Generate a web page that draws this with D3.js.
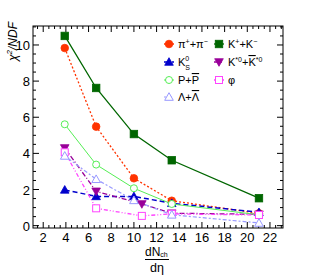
<!DOCTYPE html>
<html>
<head>
<meta charset="utf-8">
<script src="https://cdn.jsdelivr.net/npm/d3@7"></script>
<style>
  body { margin: 0; background: #fff; }
  svg text { font-family: "Liberation Sans", Arial, sans-serif; }
</style>
</head>
<body>
<div id="chart"></div>
<script>
// dN_ch/deta of the five multiplicity classes
const xMain = [3.9, 6.67, 10.0, 13.34, 21.03];
const xShift = [3.9, 6.67, 10.7, 13.34, 21.03]; // K*0 and phi

const pipi = [9.83, 5.48, 2.62, 1.38, 0.68];
const kk = [10.5, 7.62, 5.07, 3.62, 1.52];
const k0s = [1.98, 1.62, 1.62, 1.24, 0.74];
const kstar = [4.3, 1.9, 1.2, 0.69, 0.63];
const ppbar = [5.61, 3.38, 2.07, 1.2, 0.6];
const phi = [4.06, 0.96, 0.54, 0.65, 0.59];
const lambda = [3.86, 2.57, 1.4, 0.6, 0.15];

const xTicks = [2, 4, 6, 8, 10, 12, 14, 16, 18, 20, 22];
const yTicks = [0, 2, 4, 6, 8, 10];

const series = [
  { key: "pi", x: xMain, y: pipi, color: "#ff3300", dash: "2,2", lw: 1.3, marker: "circle", fill: true },
  { key: "kk", x: xMain, y: kk, color: "#006600", dash: null, lw: 1.3, marker: "square", fill: true },
  { key: "k0s", x: xMain, y: k0s, color: "#0000cc", dash: "5,3", lw: 1.5, marker: "triUp", fill: true },
  { key: "kstar", x: xShift, y: kstar, color: "#990099", dash: "5,2,1,2", lw: 1.3, marker: "triDown", fill: true },
  { key: "pp", x: xMain, y: ppbar, color: "#55ee55", dash: null, lw: 1, marker: "circle", fill: false },
  { key: "phi", x: xShift, y: phi, color: "#ff44ff", dash: "4,2,1,2,1,2", lw: 1.3, marker: "square", fill: false },
  { key: "lam", x: xMain, y: lambda, color: "#9999ff", dash: "2,2,4,2", lw: 1.2, marker: "triUp", fill: false }
];

const W = 315, H = 276;
const frame = { left: 33, right: 283, top: 26, bottom: 228 };

const svg = d3.select("#chart").append("svg")
  .attr("width", W).attr("height", H);

const x = d3.scaleLinear().domain([1.1, 23.15]).range([frame.left, frame.right]);
const y = d3.scaleLinear().domain([-0.13, 11.05]).range([frame.bottom, frame.top]);

// ticks on all four sides, pointing inward
const axes = svg.append("g");
const xMinor = d3.range(1.5, 23.01, 0.5);
const yMinor = d3.range(0, 11.01, 0.5);
xMinor.forEach(v => {
  const major = Math.abs(v % 2) < 1e-6;
  const len = major ? 6 : 3;
  axes.append("line").attr("x1", x(v)).attr("x2", x(v))
    .attr("y1", frame.bottom).attr("y2", frame.bottom - len).attr("stroke", "#000");
  axes.append("line").attr("x1", x(v)).attr("x2", x(v))
    .attr("y1", frame.top).attr("y2", frame.top + len).attr("stroke", "#000");
});
yMinor.forEach(v => {
  const major = Math.abs(v % 2) < 1e-6;
  const len = major ? 6 : 3;
  axes.append("line").attr("y1", y(v)).attr("y2", y(v))
    .attr("x1", frame.left).attr("x2", frame.left + len).attr("stroke", "#000");
  axes.append("line").attr("y1", y(v)).attr("y2", y(v))
    .attr("x1", frame.right).attr("x2", frame.right - len).attr("stroke", "#000");
});
axes.append("rect")
  .attr("x", frame.left).attr("y", frame.top)
  .attr("width", frame.right - frame.left).attr("height", frame.bottom - frame.top)
  .attr("fill", "none").attr("stroke", "#000").attr("stroke-width", 1);

axes.selectAll(".xt").data(xTicks).enter().append("text")
  .attr("x", d => x(d)).attr("y", frame.bottom + 14)
  .attr("text-anchor", "middle").attr("font-size", 13).text(d => d);
axes.selectAll(".yt").data(yTicks).enter().append("text")
  .attr("x", frame.left - 3).attr("y", d => y(d) + 5)
  .attr("text-anchor", "end").attr("font-size", 13).text(d => d);

// y title
const yt = svg.append("text")
  .attr("transform", "translate(17,22) rotate(-90)")
  .attr("text-anchor", "end").attr("font-size", 12).attr("font-style", "italic");
yt.append("tspan").text("χ");
yt.append("tspan").attr("font-size", 8).attr("dy", -5).text("2");
yt.append("tspan").attr("dy", 5).text("/NDF");

// x title as a fraction
const xt = svg.append("text").attr("x", 145).attr("y", 255.5).attr("font-size", 12);
xt.append("tspan").text("dN");
xt.append("tspan").attr("font-size", 7).attr("dy", 1).text("ch");
svg.append("line").attr("x1", 145).attr("x2", 169).attr("y1", 259.5).attr("y2", 259.5)
  .attr("stroke", "#000").attr("stroke-width", 1);
svg.append("text").attr("x", 157).attr("y", 272).attr("text-anchor", "middle")
  .attr("font-size", 12.5).text("dη");

function drawMarker(g, m, cx, cy, color, fill) {
  const f = fill ? color : "#fff";
  const sw = fill ? 0.8 : 1;
  if (m === "circle") {
    g.append("circle").attr("cx", cx).attr("cy", cy).attr("r", fill ? 3.8 : 3.5)
      .attr("fill", f).attr("stroke", color).attr("stroke-width", sw);
  } else if (m === "square") {
    const s = fill ? 7.5 : 7;
    g.append("rect").attr("x", cx - s / 2).attr("y", cy - s / 2).attr("width", s).attr("height", s)
      .attr("fill", f).attr("stroke", color).attr("stroke-width", sw);
  } else {
    const dir = m === "triUp" ? 1 : -1;
    const pts = [[cx, cy - 4.3 * dir], [cx - 4.3, cy + 3.3 * dir], [cx + 4.3, cy + 3.3 * dir]];
    g.append("polygon").attr("points", pts.map(p => p.join(",")).join(" "))
      .attr("fill", f).attr("stroke", color).attr("stroke-width", sw);
  }
}

const plot = svg.append("g");
const line = d3.line().x(d => x(d[0])).y(d => y(d[1]));
series.forEach(s => {
  const pts = s.x.map((v, i) => [v, s.y[i]]);
  plot.append("path").attr("d", line(pts))
    .attr("fill", "none").attr("stroke", s.color).attr("stroke-width", s.lw)
    .attr("stroke-dasharray", s.dash);
});
series.forEach(s => {
  const g = plot.append("g");
  s.x.forEach((v, i) => drawMarker(g, s.marker, x(v), y(s.y[i]), s.color, s.fill));
});

// legend
const legendPos = {
  pi: [169, 44], k0s: [169, 62], pp: [169, 80], lam: [169, 97],
  kk: [219, 44], kstar: [219, 62], phi: [219, 80]
};
const legend = svg.append("g");
series.forEach(s => {
  const [lx, ly] = legendPos[s.key];
  legend.append("line").attr("x1", lx - 5).attr("x2", lx + 5).attr("y1", ly).attr("y2", ly)
    .attr("stroke", s.color).attr("stroke-width", s.lw).attr("stroke-dasharray", s.dash);
  drawMarker(legend, s.marker, lx, ly, s.color, s.fill);
  const t = legend.append("text").attr("x", lx + 9).attr("y", ly + 4).attr("font-size", 11);
  const sup = txt => t.append("tspan").attr("font-size", 7).attr("dy", -4).text(txt);
  const down = txt => t.append("tspan").attr("dy", 4).text(txt);
  if (s.key === "pi") { t.append("tspan").text("π"); sup("+"); down("+π"); sup("−"); }
  if (s.key === "kk") { t.append("tspan").text("K"); sup("+"); down("+K"); sup("−"); }
  if (s.key === "k0s") {
    t.append("tspan").text("K");
    t.append("tspan").attr("font-size", 7).attr("dy", -5).text("0");
    t.append("tspan").attr("font-size", 7).attr("dx", -4).attr("dy", 9).text("S");
  }
  if (s.key === "kstar") {
    t.append("tspan").text("K"); sup("*0"); down("+");
    t.append("tspan").style("text-decoration", "overline").text("K");
    sup("*0");
  }
  if (s.key === "pp") {
    t.append("tspan").text("P+");
    t.append("tspan").style("text-decoration", "overline").text("P");
  }
  if (s.key === "phi") t.append("tspan").text("φ");
  if (s.key === "lam") {
    t.append("tspan").text("Λ+");
    t.append("tspan").style("text-decoration", "overline").text("Λ");
  }
});
</script>
</body>
</html>
